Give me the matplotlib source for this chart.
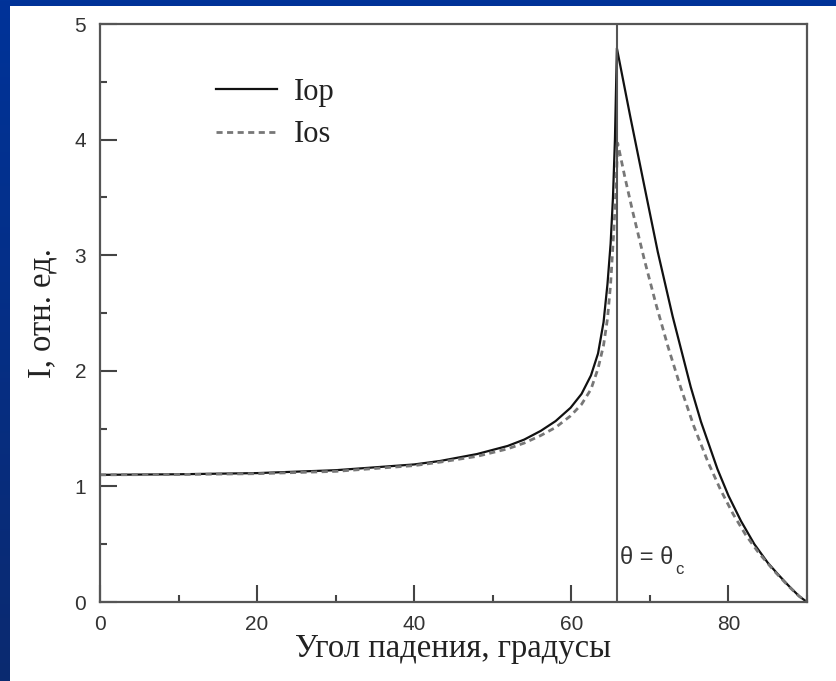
import numpy as np
import matplotlib.pyplot as plt
from matplotlib.patches import Rectangle
from matplotlib.colors import LinearSegmentedColormap
from matplotlib.ticker import MultipleLocator

# Iop: angle of incidence (deg) and relative intensity
theta_op = [0, 10, 20, 30, 40, 43.3, 48, 51.9, 54, 56.1, 58, 59.9, 61.3, 62.5, 63.4,
            64.1, 64.6, 65.0, 65.3, 65.55, 65.8,
            67.5, 69.2, 71.0, 72.9, 75.2, 76.5, 78.6, 80.0, 81.6, 83.3, 85.0, 86.3,
            87.6, 89.0, 90]
iop = [1.10, 1.105, 1.115, 1.14, 1.19, 1.22, 1.28, 1.35, 1.405, 1.48, 1.565, 1.68, 1.80,
       1.96, 2.15, 2.42, 2.75, 3.10, 3.50, 4.00, 4.79,
       4.20, 3.63, 3.03, 2.47, 1.86, 1.56, 1.15, 0.92, 0.70, 0.50, 0.34, 0.24,
       0.145, 0.05, 0.0]

# Ios
theta_os = [0, 10, 20, 30, 40, 43.3, 48, 51.9, 54, 56.1, 58, 59.9, 61.3, 62.5, 63.4,
            64.1, 64.6, 65.0, 65.4, 65.7, 65.9,
            66.8, 67.8, 69.3, 70.8, 72.3, 73.9, 75.6, 77.4, 79.0, 80.6, 82.2, 83.8,
            85.8, 87.6, 89.0, 90]
ios = [1.10, 1.103, 1.11, 1.13, 1.18, 1.21, 1.26, 1.325, 1.375, 1.44, 1.51, 1.61, 1.71,
       1.84, 2.02, 2.22, 2.45, 2.75, 3.20, 3.60, 3.97,
       3.68, 3.38, 2.96, 2.57, 2.21, 1.86, 1.52, 1.21, 0.97, 0.76, 0.58, 0.43,
       0.27, 0.14, 0.05, 0.0]

theta_c = 65.75

fig = plt.figure(figsize=(8.37, 6.81), dpi=100)

# slide background: blue gradient with a white panel
bg_ax = fig.add_axes([0, 0, 1, 1], zorder=-20)
bg_ax.axis('off')
blue = LinearSegmentedColormap.from_list('blue', ['#0b2a70', '#003399'])
bg_ax.imshow(np.linspace(0, 1, 256)[:, None], cmap=blue, aspect='auto',
             extent=[0, 1, 0, 1], origin='lower')
bg_ax.add_patch(Rectangle((10 / 837, 0), 1, 1 - 6 / 681, facecolor='white',
                          edgecolor='none'))
bg_ax.set_xlim(0, 1)
bg_ax.set_ylim(0, 1)

ax = fig.add_axes([100 / 837, 79 / 681, 707 / 837, 578 / 681])

ax.plot(theta_op, iop, color='#111111', lw=1.6, label='Iop')
ax.plot(theta_os, ios, color='#777777', lw=2.0, ls=(0, (2.2, 1.6)), label='Ios')
ax.axvline(theta_c, color='#555555', lw=1.5)

ax.set_xlim(0, 90)
ax.set_ylim(0, 5)
ax.xaxis.set_major_locator(MultipleLocator(20))
ax.xaxis.set_minor_locator(MultipleLocator(10))
ax.yaxis.set_major_locator(MultipleLocator(1))
ax.yaxis.set_minor_locator(MultipleLocator(0.5))
ax.tick_params(which='both', direction='in', colors='#444444', labelsize=15,
               labelcolor='#333333')
ax.tick_params(which='major', length=12, width=1.5)
ax.tick_params(which='minor', length=5, width=1.5)
ax.tick_params(axis='x', pad=9)
ax.tick_params(axis='y', pad=10)
for lbl in ax.get_xticklabels() + ax.get_yticklabels():
    lbl.set_family('Liberation Sans')
for sp in ax.spines.values():
    sp.set_color('#555555')
    sp.set_linewidth(1.6)

ax.set_xlabel('Угол падения, градусы', family='Liberation Serif', fontsize=23.5,
              color='#222222', labelpad=0)
ax.set_ylabel('I, отн. ед.', family='Liberation Serif', fontsize=23.5,
              color='#222222', labelpad=12)

lab = ax.text(theta_c + 0.5, 0.33, 'θ = θ', fontsize=17, color='#333333',
              family='Liberation Sans')
ax.annotate('c', xy=(1, 0), xycoords=lab, xytext=(1, -6), textcoords='offset points',
            fontsize=12, color='#333333', family='Liberation Sans', va='bottom')

leg = ax.legend(loc='upper left', bbox_to_anchor=(0.125, 0.955), frameon=False,
                prop={'family': 'Liberation Serif', 'size': 22}, handlelength=2.0,
                handletextpad=0.55, labelspacing=0.45)
for t in leg.get_texts():
    t.set_color('#222222')

fig.savefig('out.png', dpi=100)
